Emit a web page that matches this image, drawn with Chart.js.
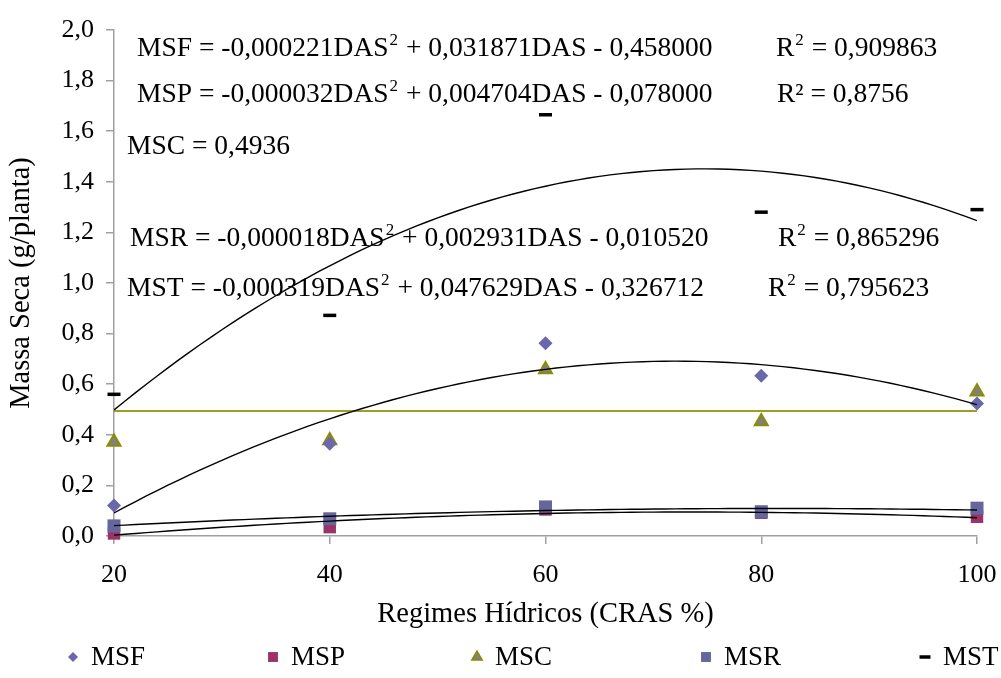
<!DOCTYPE html>
<html>
<head>
<meta charset="utf-8">
<script src="https://cdn.jsdelivr.net/npm/chart.js@4.4.1/dist/chart.umd.min.js"></script>
<style>
  html, body { margin: 0; padding: 0; background: #fff; }
  #wrap { width: 1001px; height: 678px; }
</style>
</head>
<body>
<div id="wrap"><canvas id="myChart" width="1001" height="678"></canvas></div>
<script>
// Dados
var regimes = [20, 40, 60, 80, 100];
var msf = [0.121, 0.365, 0.762, 0.633, 0.524];
var msp = [0.01, 0.035, 0.105, 0.092, 0.076];
var msc = [0.372, 0.377, 0.658, 0.453, 0.57];
var msr = [0.04, 0.068, 0.115, 0.096, 0.11];
var mst = [0.56, 0.872, 1.665, 1.28, 1.29];

var seriesNames = ['MSF', 'MSP', 'MSC', 'MSR', 'MST'];
var yTickLabels = ['0,0', '0,2', '0,4', '0,6', '0,8', '1,0', '1,2', '1,4', '1,6', '1,8', '2,0'];
var xTickLabels = ['20', '40', '60', '80', '100'];

// Coeficientes das linhas de tendência (a, b, c) impressos no gráfico
var coefMSF = [-0.000221, 0.031871, -0.458000];
var coefMSP = [-0.000032, 0.004704, -0.078000];
var coefMSR = [-0.000018, 0.002931, -0.010520];
var coefMST = [-0.000319, 0.047629, -0.326712];
var mediaMSC = 0.4936;

var eqTexts = [
  'MSF = -0,000221DAS^2 + 0,031871DAS - 0,458000',
  'MSP = -0,000032DAS^2 + 0,004704DAS - 0,078000',
  'MSC = 0,4936',
  'MSR = -0,000018DAS^2 + 0,002931DAS - 0,010520',
  'MST = -0,000319DAS^2 + 0,047629DAS - 0,326712'
];
var r2Texts = ['R^2 = 0,909863', 'R\u00b2 = 0,8756', '', 'R^2 = 0,865296', 'R^2 = 0,795623'];

var SERIF = "'Liberation Serif', 'Times New Roman', serif";

function pontos(vals) {
  return regimes.map(function (x, i) { return { x: x, y: vals[i] }; });
}
// curva da equação impressa, de 20 a 100
function curva(c) {
  var out = [];
  for (var x = regimes[0]; x <= regimes[regimes.length - 1]; x++) {
    out.push({ x: x, y: c[0] * x * x + c[1] * x + c[2] });
  }
  return out;
}

var trend = {
  type: 'line', showLine: true, pointRadius: 0, borderColor: '#000', borderWidth: 1.4,
  fill: false, tension: 0, order: 0
};

var datasets = [
  Object.assign({ data: curva(coefMSF) }, trend),
  Object.assign({ data: curva(coefMSP) }, trend),
  Object.assign({ data: curva(coefMSR) }, trend),
  Object.assign({ data: curva(coefMST) }, trend),
  Object.assign({}, trend, {
    data: [{ x: regimes[0], y: mediaMSC }, { x: regimes[4], y: mediaMSC }],
    borderColor: '#9E9E25', borderWidth: 2
  }),
  { label: 'MSP', data: pontos(msp), pointStyle: 'rect', pointRadius: 8.8, backgroundColor: '#9B3366', borderColor: '#9B3366', borderWidth: 0, order: 6, clip: false },
  { label: 'MSR', data: pontos(msr), pointStyle: 'rect', pointRadius: 9.2, backgroundColor: '#66669C', borderColor: '#66669C', borderWidth: 0, order: 5, clip: false },
  { label: 'MSC', data: pontos(msc), pointStyle: 'triangle', pointRadius: 7.5, backgroundColor: '#808080', borderColor: '#8C8C00', borderWidth: 2, order: 4, clip: false },
  { label: 'MSF', data: pontos(msf), pointStyle: 'rectRot', pointRadius: 7, backgroundColor: '#6A68AA', borderColor: '#6A68AA', borderWidth: 0, order: 3, clip: false },
  { label: 'MST', data: pontos(mst), pointStyle: 'line', pointRadius: 6.5, backgroundColor: '#000', borderColor: '#000', borderWidth: 3.5, order: 2, clip: false }
];

// Texto das equações
var equacoes = {
  id: 'equacoes',
  afterDatasetsDraw: function (chart) {
    var ctx = chart.ctx;
    var pos = [[137, 56, 776], [137, 102, 777], [127, 154, 0], [130, 246, 778], [127, 296, 768]];
    function escreve(txt, x, y) {
      var partes = txt.split('^2');
      partes.forEach(function (p, i) {
        ctx.font = '27.5px ' + SERIF;
        ctx.fillText(p, x, y);
        x += ctx.measureText(p).width;
        if (i < partes.length - 1) {
          ctx.font = '17px ' + SERIF;
          ctx.fillText('2', x + 1, y - 11);
          x += ctx.measureText('2').width + 2;
        }
      });
    }
    ctx.save();
    ctx.fillStyle = '#000';
    ctx.textBaseline = 'alphabetic';
    eqTexts.forEach(function (t, i) {
      escreve(t, pos[i][0], pos[i][1]);
      if (r2Texts[i]) escreve(r2Texts[i], pos[i][2], pos[i][1]);
    });
    ctx.restore();
  }
};

// Legenda embaixo
var legenda = {
  id: 'legenda',
  afterDraw: function (chart) {
    var ctx = chart.ctx;
    var xs = [73, 273, 477, 706, 925];
    var y = 657;
    var estilos = {
      MSF: { pointStyle: 'rectRot', radius: 5, backgroundColor: '#6A68AA', borderColor: '#6A68AA', borderWidth: 0 },
      MSP: { pointStyle: 'rect', radius: 7, backgroundColor: '#9B3366', borderColor: '#9B3366', borderWidth: 0 },
      MSC: { pointStyle: 'triangle', radius: 6, backgroundColor: '#808080', borderColor: '#8C8C00', borderWidth: 1.5 },
      MSR: { pointStyle: 'rect', radius: 7, backgroundColor: '#66669C', borderColor: '#66669C', borderWidth: 0 },
      MST: { pointStyle: 'line', radius: 5.5, backgroundColor: '#000', borderColor: '#000', borderWidth: 3.5 }
    };
    ctx.save();
    seriesNames.forEach(function (n, i) {
      var s = estilos[n];
      ctx.fillStyle = s.backgroundColor;
      ctx.strokeStyle = s.borderColor;
      ctx.lineWidth = s.borderWidth;
      Chart.helpers.drawPoint(ctx, s, xs[i], y);
      ctx.fillStyle = '#000';
      ctx.font = '27px ' + SERIF;
      ctx.textBaseline = 'middle';
      ctx.fillText(n, xs[i] + 18, y + 1);
    });
    ctx.restore();
  }
};

var ctx = document.getElementById('myChart').getContext('2d');
var myChart = new Chart(ctx, {
  type: 'scatter',
  data: { datasets: datasets },
  options: {
    responsive: false,
    animation: false,
    devicePixelRatio: 1,
    layout: { padding: { top: 30, right: 24, bottom: 40, left: 0 } },
    plugins: { legend: { display: false }, tooltip: { enabled: false } },
    scales: {
      x: {
        type: 'linear', min: 20, max: 100,
        afterFit: function (s) { s.height = 102; s.paddingRight = 0; s.paddingLeft = 0; },
        ticks: {
          stepSize: 20, color: '#000', padding: 16,
          font: { family: SERIF, size: 26 },
          callback: function (v, i) { return xTickLabels[i]; }
        },
        grid: { drawOnChartArea: false, tickLength: 8, color: '#A0A0A0', lineWidth: 1.5 },
        border: { color: '#A0A0A0', width: 1.5 },
        title: { display: true, text: 'Regimes Hídricos (CRAS %)', color: '#000', font: { family: SERIF, size: 28.5 }, padding: { top: 0, bottom: 6 } }
      },
      y: {
        min: 0, max: 2,
        afterFit: function (s) { s.width = 114; },
        ticks: {
          stepSize: 0.2, color: '#000', padding: 12,
          font: { family: SERIF, size: 26 },
          callback: function (v, i) { return yTickLabels[i]; }
        },
        grid: { drawOnChartArea: false, tickLength: 8, color: '#A0A0A0', lineWidth: 1.5 },
        border: { color: '#A0A0A0', width: 1.5 },
        title: { display: true, text: 'Massa Seca (g/planta)', color: '#000', font: { family: SERIF, size: 28.5 }, padding: { top: 4, bottom: 0 } }
      }
    }
  },
  plugins: [equacoes, legenda]
});
</script>
</body>
</html>
